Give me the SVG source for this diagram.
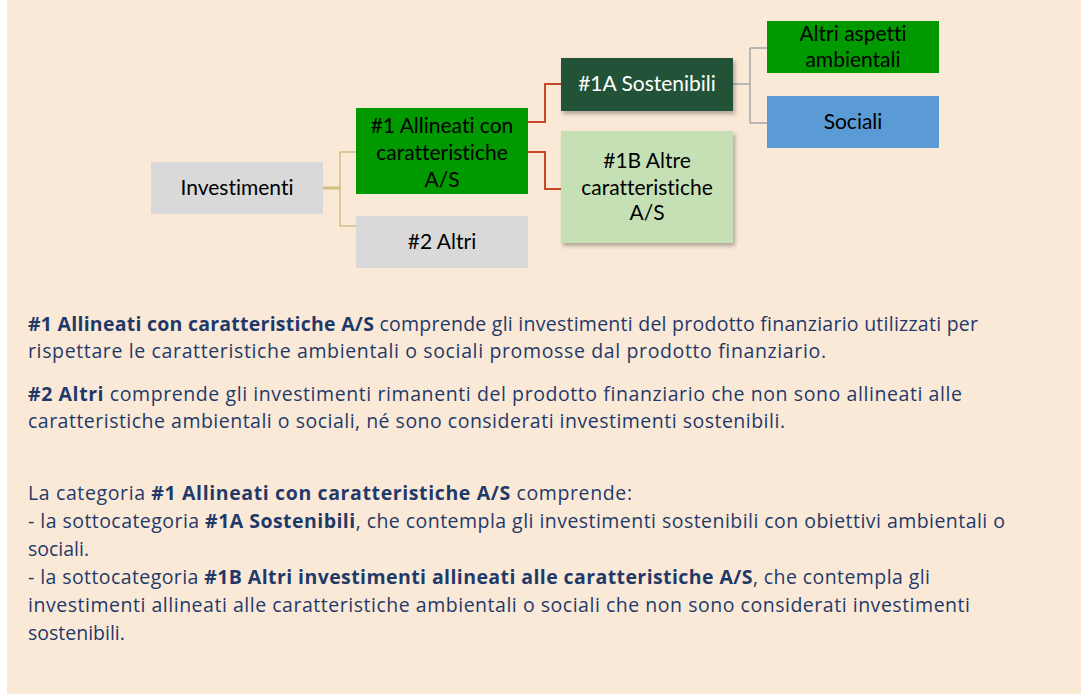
<svg xmlns="http://www.w3.org/2000/svg" width="1081" height="694" viewBox="0 0 1081 694">
<style>
text{font-variant-ligatures:none}
.box{font-family:Lato,"Open Sans",sans-serif;font-size:21px;fill:#000;text-anchor:middle}
.white{fill:#fff}
.body{font-family:"Open Sans",Lato,sans-serif;font-size:19.5px;fill:#1F3A68}
.b{font-weight:bold}
.gold{fill:none;stroke:#CFC084;stroke-width:1.5}
.red{fill:none;stroke:#C8472A;stroke-width:2}
.gray{fill:none;stroke:#A6A6A6;stroke-width:1.5}
</style>
<defs>
<filter id="sh" x="-10%" y="-10%" width="130%" height="140%">
<feDropShadow dx="2" dy="3" stdDeviation="2" flood-color="#000" flood-opacity="0.3"/>
</filter>
</defs>
<rect x="0" y="0" width="1081" height="694" fill="#fff"/>
<rect x="7" y="0" width="1074" height="694" fill="#FBE9D8"/>
<g id="connectors">
<path class="gold" d="M323,188 H340" style="stroke-width:3"/>
<path class="gold" d="M340,152 V226 M340,152 H356 M340,226 H356"/>
<path class="red" d="M528,122 H545 V84 H561"/>
<path class="red" d="M528,152 H545 V189 H561"/>
<path class="gray" d="M733,84 H750 M750,48 V123 M750,48 H767 M750,123 H767"/>
</g>
<g id="node-investimenti">
<rect x="151" y="162" width="172" height="52" fill="#D9D9D9"/>
<text class="box" x="237" y="195">Investimenti</text>
</g>
<g id="node-allineati">
<rect x="356" y="108" width="172" height="86" fill="#009900"/>
<text class="box" x="442" y="133">#1 Allineati con</text>
<text class="box" x="442" y="160">caratteristiche</text>
<text class="box" x="442" y="187">A/S</text>
</g>
<g id="node-altri">
<rect x="356" y="216" width="172" height="52" fill="#D9D9D9"/>
<text class="box" x="442" y="249">#2 Altri</text>
</g>
<g id="node-sostenibili">
<rect x="561" y="58" width="172" height="53" fill="#245339" filter="url(#sh)"/>
<text class="box white" x="647" y="91">#1A Sostenibili</text>
</g>
<g id="node-altre">
<rect x="561" y="131" width="172" height="112" fill="#C5E0B4" filter="url(#sh)"/>
<text class="box" x="647" y="168">#1B Altre</text>
<text class="box" x="647" y="195">caratteristiche</text>
<text class="box" x="647" y="220">A/S</text>
</g>
<g id="node-ambientali">
<rect x="767" y="21" width="172" height="52" fill="#009900"/>
<text class="box" x="853" y="41">Altri aspetti</text>
<text class="box" x="853" y="67">ambientali</text>
</g>
<g id="node-sociali">
<rect x="767" y="96" width="172" height="52" fill="#5B9BD5"/>
<text class="box" x="853" y="129">Sociali</text>
</g>
<g id="text">
<text class="body" x="28" y="331" textLength="950" lengthAdjust="spacing"><tspan class="b">#1 Allineati con caratteristiche A/S</tspan> comprende gli investimenti del prodotto finanziario utilizzati per</text>
<text class="body" x="28" y="358" textLength="798" lengthAdjust="spacing">rispettare le caratteristiche ambientali o sociali promosse dal prodotto finanziario.</text>
<text class="body" x="28" y="401" textLength="934" lengthAdjust="spacing"><tspan class="b">#2 Altri</tspan> comprende gli investimenti rimanenti del prodotto finanziario che non sono allineati alle</text>
<text class="body" x="28" y="428" textLength="757" lengthAdjust="spacing">caratteristiche ambientali o sociali, né sono considerati investimenti sostenibili.</text>
<text class="body" x="28" y="500" textLength="604" lengthAdjust="spacing">La categoria <tspan class="b">#1 Allineati con caratteristiche A/S</tspan> comprende:</text>
<text class="body" x="28" y="528" textLength="977" lengthAdjust="spacing">- la sottocategoria <tspan class="b">#1A Sostenibili</tspan>, che contempla gli investimenti sostenibili con obiettivi ambientali o</text>
<text class="body" x="28" y="556">sociali.</text>
<text class="body" x="28" y="584" textLength="902" lengthAdjust="spacing">- la sottocategoria <tspan class="b">#1B Altri investimenti allineati alle caratteristiche A/S</tspan>, che contempla gli</text>
<text class="body" x="28" y="612" textLength="942" lengthAdjust="spacing">investimenti allineati alle caratteristiche ambientali o sociali che non sono considerati investimenti</text>
<text class="body" x="28" y="640">sostenibili.</text>
</g>
</svg>
